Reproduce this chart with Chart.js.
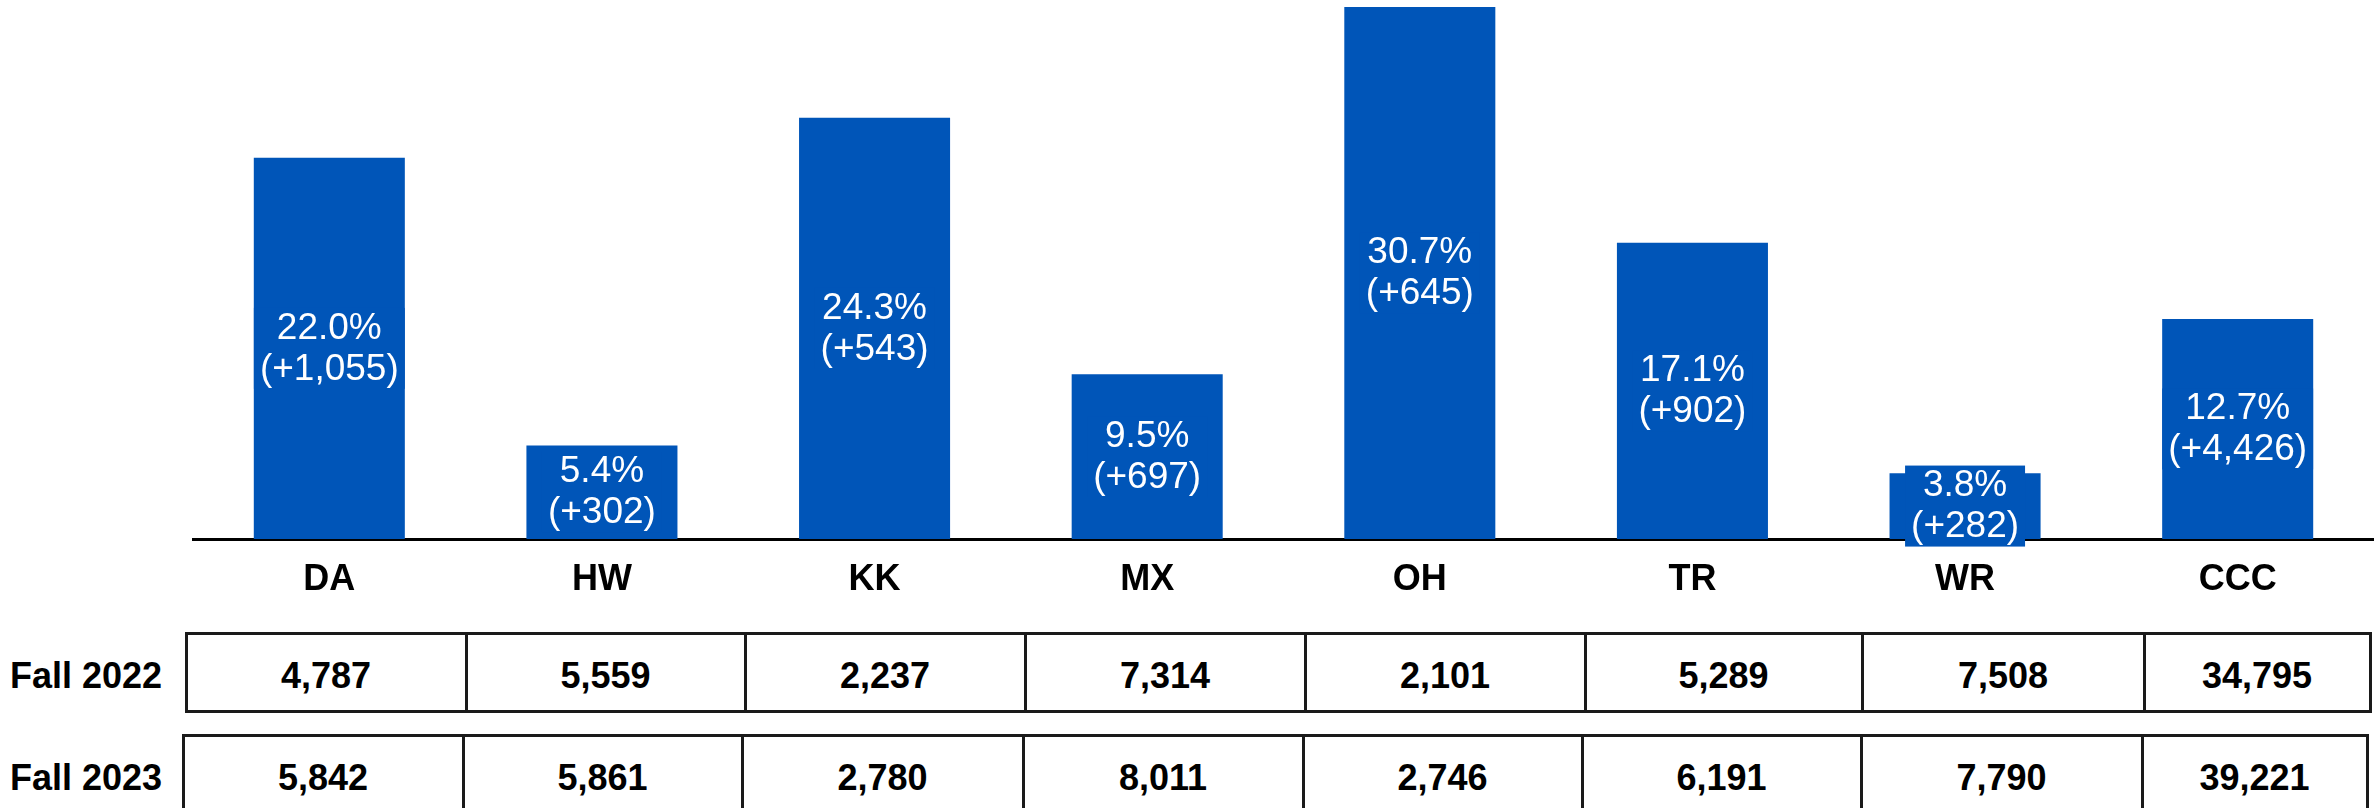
<!DOCTYPE html>
<html>
<head>
<meta charset="utf-8">
<title>Enrollment change by campus</title>
<script src="https://cdn.jsdelivr.net/npm/chart.js@4.4.0/dist/chart.umd.min.js"></script>
<style>
  body {
    margin: 0;
    width: 2374px;
    height: 808px;
    overflow: hidden;
    position: relative;
    background: #fff;
    font-family: 'Liberation Sans', Arial, sans-serif;
  }
  #chartBox { position: absolute; left: 0; top: 0; width: 2374px; height: 620px; }
  .cell {
    position: absolute;
    box-sizing: border-box;
    border: 3px solid #1a1a1a;
    display: flex;
    align-items: center;
    justify-content: center;
    padding-top: 8px;
    font-weight: bold;
    font-size: 36px;
    color: #000;
  }
  .rowLabel {
    position: absolute;
    left: 10px;
    height: 40px;
    line-height: 40px;
    font-weight: bold;
    font-size: 36px;
    color: #000;
  }
</style>
</head>
<body>
<div id="chartBox"><canvas id="growthChart"></canvas></div>
<div id="table"></div>

<script>
// campuses and data
const campuses = ['DA', 'HW', 'KK', 'MX', 'OH', 'TR', 'WR', 'CCC'];
const fall2022 = [4787, 5559, 2237, 7314, 2101, 5289, 7508, 34795];
const fall2023 = [5842, 5861, 2780, 8011, 2746, 6191, 7790, 39221];
const pctChange = [22.0, 5.4, 24.3, 9.5, 30.7, 17.1, 3.8, 12.7];
const headcountChange = [1055, 302, 543, 697, 645, 902, 282, 4426];
const rowNames = ['Fall 2022', 'Fall 2023'];

const barColor = '#0055B8';

// table geometry (cell edges, px)
const tableRows = [
  { top: 633, bottom: 711, edges: [186, 466, 745, 1025, 1305, 1585, 1862, 2144, 2370], values: fall2022 },
  { top: 735, bottom: 813, edges: [183, 463, 742, 1023, 1303, 1582, 1861, 2142, 2367], values: fall2023 }
];

// build the table below the chart
const tableDiv = document.getElementById('table');
tableRows.forEach((row, r) => {
  const label = document.createElement('div');
  label.className = 'rowLabel';
  label.textContent = rowNames[r];
  label.style.top = ((row.top + row.bottom) / 2 + 4 - 20) + 'px';
  tableDiv.appendChild(label);

  row.values.forEach((v, i) => {
    const cell = document.createElement('div');
    cell.className = 'cell';
    cell.style.left = (row.edges[i] - 1.5) + 'px';
    cell.style.width = (row.edges[i + 1] - row.edges[i] + 3) + 'px';
    cell.style.top = (row.top - 1.5) + 'px';
    cell.style.height = (row.bottom - row.top + 3) + 'px';
    cell.textContent = v.toLocaleString('en-US');
    tableDiv.appendChild(cell);
  });
});

// white two-line labels centred in each bar, on a bar-coloured box
const barLabels = {
  id: 'barLabels',
  afterDatasetsDraw(chart) {
    const ctx = chart.ctx;
    const meta = chart.getDatasetMeta(0);
    ctx.save();
    ctx.font = '37px "Liberation Sans", Arial, sans-serif';
    ctx.textAlign = 'center';
    ctx.textBaseline = 'middle';
    meta.data.forEach((bar, i) => {
      const line1 = pctChange[i].toFixed(1) + '%';
      const line2 = '(+' + headcountChange[i].toLocaleString('en-US') + ')';
      const cy = (bar.y + bar.base) / 2;
      const w = Math.max(ctx.measureText(line1).width, ctx.measureText(line2).width) + 12;
      ctx.fillStyle = barColor;
      ctx.fillRect(bar.x - w / 2, cy - 40.5, w, 81);
      ctx.fillStyle = '#ffffff';
      ctx.fillText(line1, bar.x, cy - 20);
      ctx.fillText(line2, bar.x, cy + 21);
    });
    ctx.restore();
  }
};

const ctx = document.getElementById('growthChart').getContext('2d');
new Chart(ctx, {
  type: 'bar',
  data: {
    labels: campuses,
    datasets: [{
      data: pctChange,
      backgroundColor: barColor,
      borderWidth: 0,
      barPercentage: 0.554,
      categoryPercentage: 1.0
    }]
  },
  options: {
    responsive: true,
    maintainAspectRatio: false,
    animation: false,
    layout: { padding: { left: 193, right: 0, top: 0, bottom: 0 } },
    plugins: {
      legend: { display: false },
      tooltip: { enabled: false }
    },
    scales: {
      x: {
        grid: { display: false, drawTicks: false },
        border: { display: true, color: '#000000', width: 3 },
        ticks: {
          color: '#000000',
          padding: 19,
          font: { family: "'Liberation Sans', Arial, sans-serif", size: 36, weight: 'bold' }
        },
        afterFit: (scale) => { scale.height = 81; }
      },
      y: {
        display: false,
        min: 0,
        max: 31.1
      }
    }
  },
  plugins: [barLabels]
});
</script>
</body>
</html>
